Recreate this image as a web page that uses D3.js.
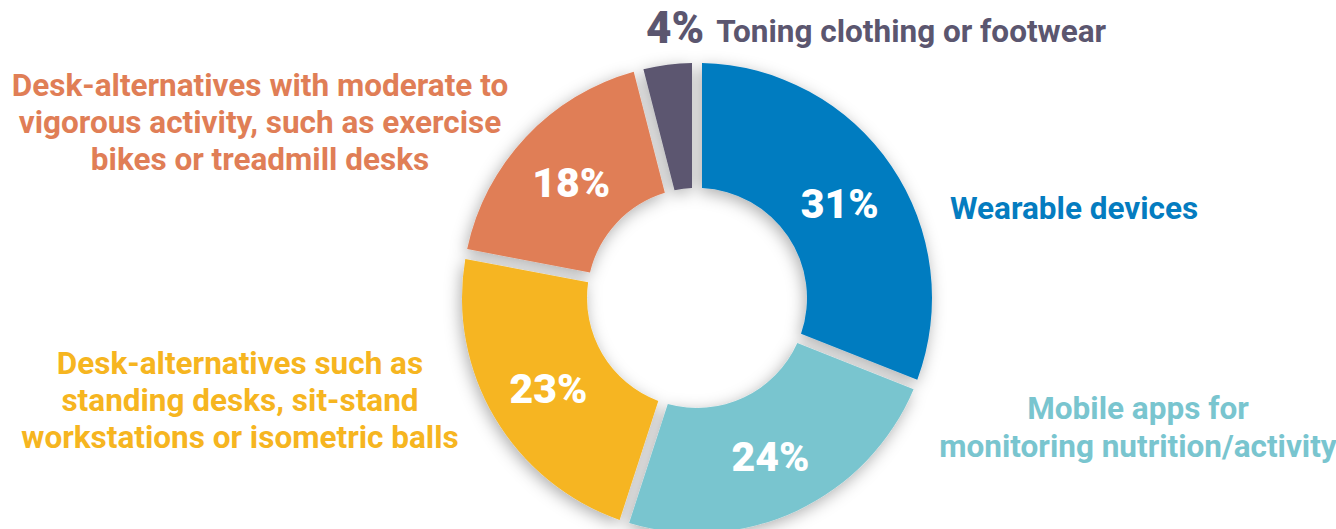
<!DOCTYPE html>
<html>
<head>
<meta charset="utf-8">
<script src="https://cdn.jsdelivr.net/npm/d3@7"></script>
<style>
  body { margin: 0; background: #fff; }
  svg text { font-family: Roboto, "Open Sans", sans-serif; font-weight: 700; }
</style>
</head>
<body>
<script>
// data
var categories = ["Wearable devices", "Mobile apps", "Desk-alternatives (standing)", "Desk-alternatives (active)", "Toning clothing or footwear"];
var values = [31, 24, 23, 18, 4];
var colors = ["#047cc0", "#79c5cf", "#f6b520", "#e07e56", "#5b566f"];
var labelLines = [
  ["Wearable devices"],
  ["Mobile apps for", "monitoring nutrition/activity"],
  ["Desk-alternatives such as", "standing desks, sit-stand", "workstations or isometric balls"],
  ["Desk-alternatives with moderate to", "vigorous activity, such as exercise", "bikes or treadmill desks"],
  ["Toning clothing or footwear"]
];

var width = 1336,
  height = 529,
  cx = 697,
  cy = 298,
  outer = 235,
  inner = 110;

var svg = d3.select("body")
  .append("svg")
    .attr("width", width)
    .attr("height", height);

// soft shadow under the ring
var defs = svg.append("defs");
var filter = defs.append("filter")
  .attr("id", "shadow")
  .attr("x", "-20%").attr("y", "-20%")
  .attr("width", "140%").attr("height", "140%");
filter.append("feDropShadow")
  .attr("dx", -2)
  .attr("dy", 4)
  .attr("stdDeviation", 8)
  .attr("flood-color", "#000")
  .attr("flood-opacity", 0.32);

var data = values.map(function(v, i) {
  return { name: categories[i], value: v, color: colors[i], i: i };
});

var pie = d3.pie()
  .sort(null)
  .value(function(d) { return d.value; });

var arc = d3.arc()
  .innerRadius(inner)
  .outerRadius(outer)
  .padAngle(10 / outer)
  .padRadius(outer);

var labelArc = d3.arc()
  .innerRadius((inner + outer) / 2)
  .outerRadius((inner + outer) / 2);

var g = svg.append("g")
  .attr("transform", "translate(" + cx + "," + cy + ")");

g.append("g")
  .attr("filter", "url(#shadow)")
  .selectAll("path")
  .data(pie(data))
  .enter()
  .append("path")
    .attr("d", arc)
    .attr("fill", function(d) { return d.data.color; });

// percent labels inside slices (not the small one)
g.selectAll("text.pct")
  .data(pie(data).filter(function(d) { return d.data.value > 5; }))
  .enter()
  .append("text")
    .attr("class", "pct")
    .attr("transform", function(d) {
      var c = labelArc.centroid(d);
      return "translate(" + c[0] + "," + (c[1] + 3) + ")";
    })
    .attr("text-anchor", "middle")
    .attr("dominant-baseline", "central")
    .attr("fill", "#fff")
    .style("font-size", "41px")
    .style("font-weight", 900)
    .text(function(d) { return d.data.value + "%"; });

// category labels
function block(lines, x, y, anchor, color, size, step) {
  var t = svg.append("text")
    .attr("text-anchor", anchor)
    .attr("fill", color)
    .style("font-size", size + "px");
  lines.forEach(function(line, k) {
    t.append("tspan")
      .attr("x", x)
      .attr("y", y + k * step)
      .text(line);
  });
  return t;
}

block(labelLines[0], 950, 219, "start", colors[0], 31.5, 37);
block(labelLines[1], 1138, 419, "middle", colors[1], 31.5, 37.5);
block(labelLines[2], 240, 374, "middle", colors[2], 31.5, 37);
block(labelLines[3], 260, 96, "middle", colors[3], 31.5, 37);

// small slice label at the top
var topLabel = svg.append("text")
  .attr("x", 646)
  .attr("y", 43)
  .attr("fill", colors[4]);
topLabel.append("tspan")
  .style("font-size", "44px")
  .style("font-weight", 900)
  .text(values[4] + "%");
topLabel.append("tspan")
  .attr("dx", 12)
  .attr("dy", -1)
  .style("font-size", "31.5px")
  .text(labelLines[4][0]);
</script>
</body>
</html>
